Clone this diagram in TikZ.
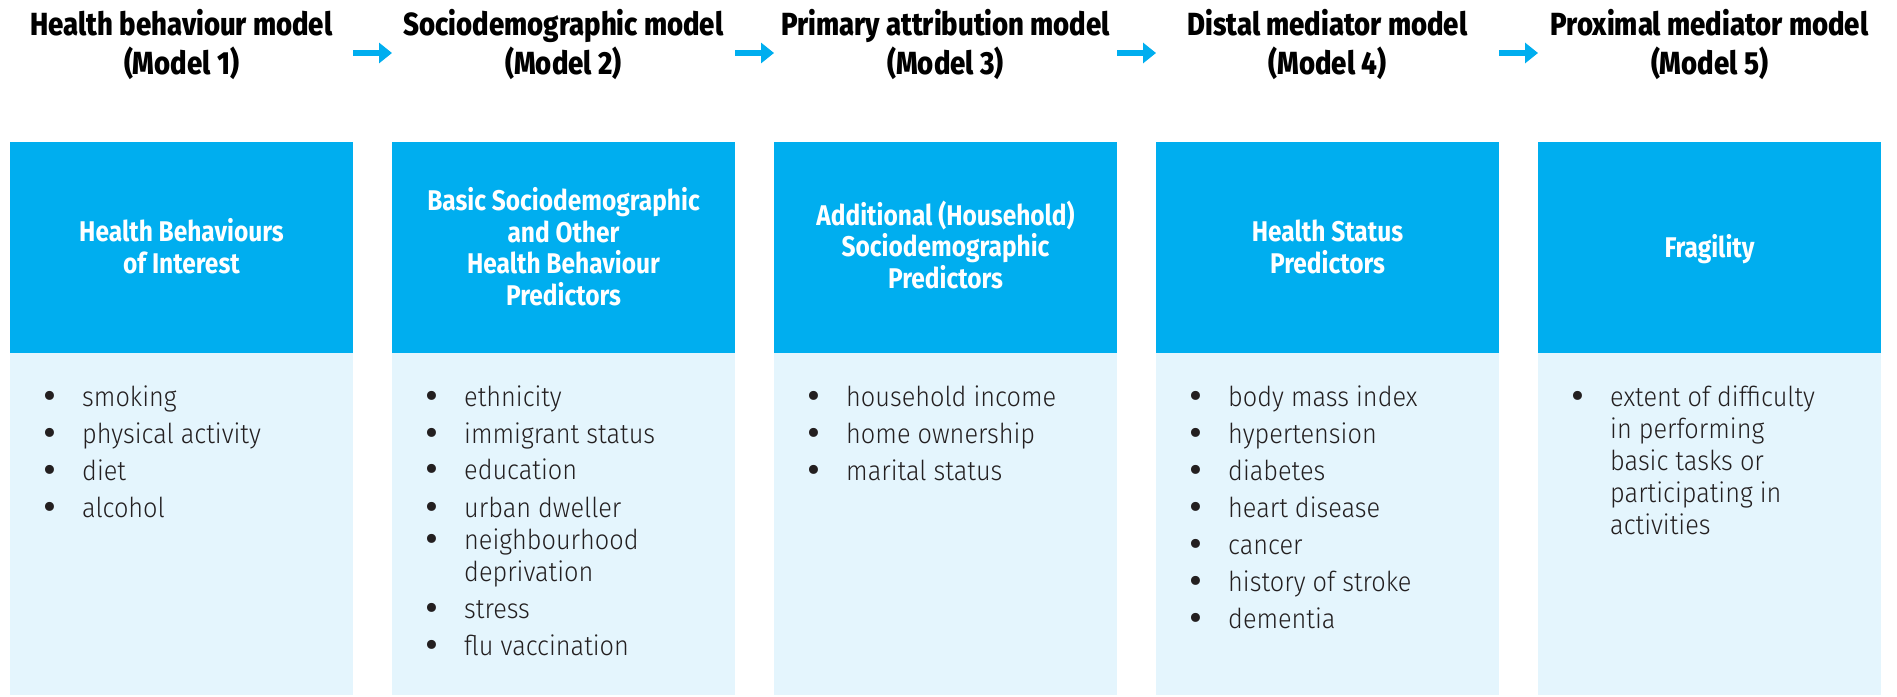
\documentclass[tikz,border=0pt]{standalone}
\usepackage{fontspec}
\setmainfont{Fira Sans}
\newfontfamily\bodyfont[FakeStretch=0.92]{Fira Sans Light}
\newfontfamily\hdrfont[FakeStretch=0.86]{Fira Sans ExtraBold}
\newfontfamily\ttlfont[FakeStretch=0.86]{Fira Sans}
\usetikzlibrary{arrows.meta}
\definecolor{cyanhead}{RGB}{0,174,239}
\definecolor{cyanlight}{RGB}{228,245,253}
\definecolor{bodytext}{RGB}{35,31,32}
\tikzset{
  topbox/.style={fill=cyanhead, draw=none, minimum width=343pt, minimum height=211pt, anchor=north west, inner sep=0pt, outer sep=0pt},
  listbox/.style={fill=cyanlight, draw=none, minimum width=343pt, minimum height=342pt, anchor=north west, inner sep=0pt, outer sep=0pt},
  header/.style={font=\hdrfont\fontsize{32}{39}\selectfont, align=center, anchor=base, inner sep=0pt, text=black},
  boxtitle/.style={font=\ttlfont\bfseries\fontsize{28.5}{31.5}\selectfont, align=center, anchor=base, inner sep=0pt, text=white},
  items/.style={font=\bodyfont\fontsize{27.5}{32}\selectfont, align=left, anchor=base west, inner sep=0pt, text=bodytext},
  flowarrow/.style={draw=cyanhead, line width=5.5pt, -{Triangle[length=13pt,width=20pt]}},
}
\newcommand{\bul}{\makebox[39pt][l]{\raisebox{-3.4pt}{\scalebox{1.45}{\normalfont\textbullet}}}}
\newcommand{\cont}{\hspace*{39pt}}
\begin{document}
\begin{tikzpicture}[x=1pt, y=-1pt]
\useasboundingbox (0,0) rectangle (1897,696);
% boxes
\node[topbox] (t1) at (10,142) {};
\node[topbox] (t2) at (392,142) {};
\node[topbox] (t3) at (774,142) {};
\node[topbox] (t4) at (1156,142) {};
\node[topbox] (t5) at (1538,142) {};
\node[listbox] (b1) at (10,353) {};
\node[listbox] (b2) at (392,353) {};
\node[listbox] (b3) at (774,353) {};
\node[listbox] (b4) at (1156,353) {};
\node[listbox] (b5) at (1538,353) {};
% headers (anchor base = last line's baseline)
\node[header] (h1) at (181.5,74) {Health behaviour model\\(Model 1)};
\node[header] (h2) at (563.5,74) {Sociodemographic model\\(Model 2)};
\node[header] (h3) at (945.5,74) {Primary attribution model\\(Model 3)};
\node[header] (h4) at (1327.5,74) {Distal mediator model\\(Model 4)};
\node[header] (h5) at (1709.5,74) {Proximal mediator model\\(Model 5)};
% arrows
\coordinate (a1s) at (353,53); \coordinate (a1e) at (392,53);
\coordinate (a2s) at (735,53); \coordinate (a2e) at (774,53);
\coordinate (a3s) at (1117,53); \coordinate (a3e) at (1156,53);
\coordinate (a4s) at (1499,53); \coordinate (a4e) at (1538,53);
\draw[flowarrow] (a1s) -- (a1e);
\draw[flowarrow] (a2s) -- (a2e);
\draw[flowarrow] (a3s) -- (a3e);
\draw[flowarrow] (a4s) -- (a4e);
% box titles
\node[boxtitle] (c1) at (181.5,273) {Health Behaviours\\of Interest};
\node[boxtitle] (c2) at (563.5,305) {Basic Sociodemographic\\and Other\\Health Behaviour\\Predictors};
\node[boxtitle] (c3) at (945.5,288) {Additional (Household)\\Sociodemographic\\Predictors};
\node[boxtitle] (c4) at (1327.5,273) {Health Status\\Predictors};
\node[boxtitle] (c5) at (1709.5,257.5) {Fragility};
% lists
\node[items] (l1) at (43,517) {\bul smoking\\[5pt]\bul physical activity\\[5pt]\bul diet\\[5pt]\bul alcohol};
\node[items] (l2) at (425,655) {\bul ethnicity\\[5pt]\bul immigrant status\\[4pt]\bul education\\[6pt]\bul urban dweller\\\bul neighbourhood\\\cont deprivation\\[5pt]\bul stress\\[5pt]\bul flu vaccination};
\node[items] (l3) at (807,480) {\bul household income\\[5pt]\bul home ownership\\[5pt]\bul marital status};
\node[items] (l4) at (1189,628) {\bul body mass index\\[5pt]\bul hypertension\\[5pt]\bul diabetes\\[5pt]\bul heart disease\\[5pt]\bul cancer\\[5pt]\bul history of stroke\\[5pt]\bul dementia};
\node[items] (l5) at (1571,534) {\bul extent of difficulty\\\cont in performing\\\cont basic tasks or\\\cont participating in\\\cont activities};
\end{tikzpicture}
\end{document}
